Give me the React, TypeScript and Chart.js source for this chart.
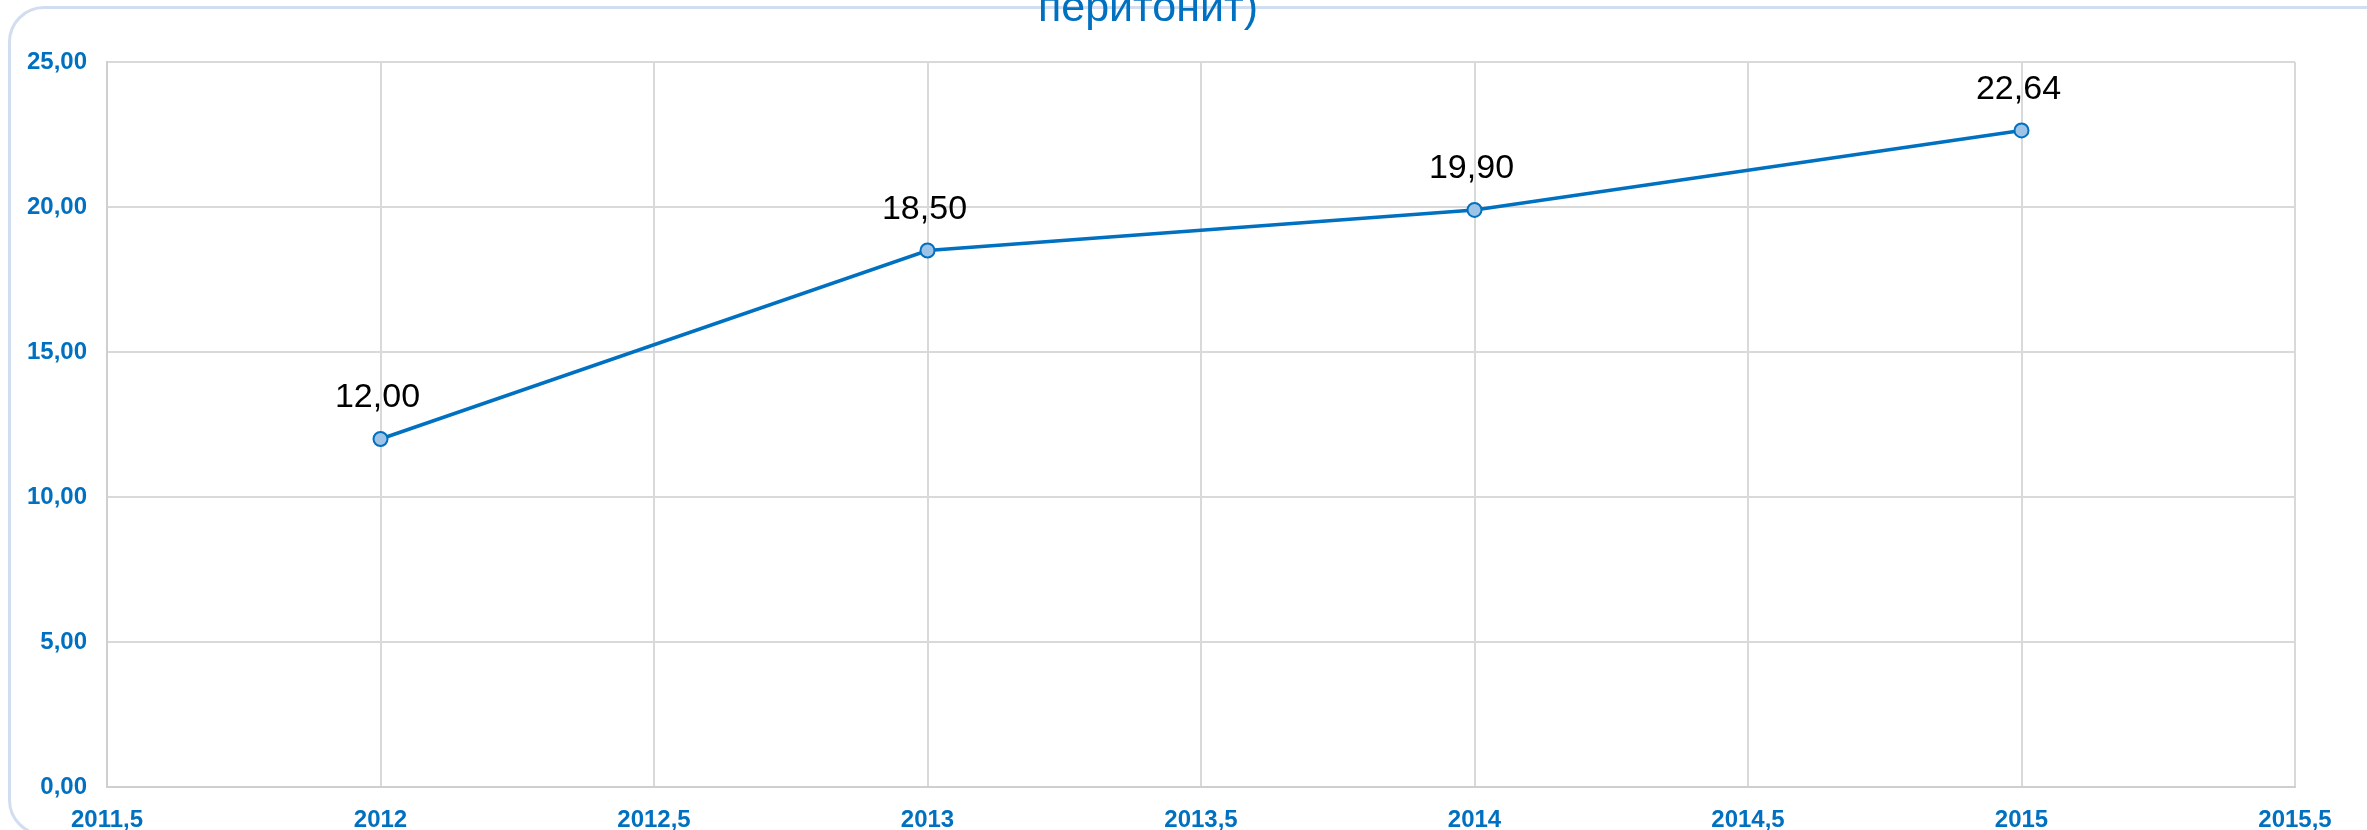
import React, { useEffect, useRef } from "react";
import { Chart, registerables } from "chart.js";

Chart.register(...registerables);

const years = [2012, 2013, 2014, 2015];
const values = [12.0, 18.5, 19.9, 22.64];
const titleText = "перитонит)";
const xMin = 2011.5;
const xMax = 2015.5;
const xStep = 0.5;
const yMin = 0;
const yMax = 25;
const yStep = 5;

const FONT = "'Liberation Sans', Arial, sans-serif";
const BLUE = "#0070c0";

const fmt = (v: number, d: number) => v.toFixed(d).replace(".", ",");

export default function App() {
  const ref = useRef<HTMLCanvasElement | null>(null);

  useEffect(() => {
    document.body.style.margin = "0";
    document.body.style.overflow = "hidden";
    const canvas = ref.current;
    if (!canvas) return;

    const titlePlugin = {
      id: "cutTitle",
      afterDraw(chart: any) {
        const ctx = chart.ctx;
        ctx.save();
        ctx.font = `43px ${FONT}`;
        ctx.fillStyle = BLUE;
        ctx.textAlign = "center";
        ctx.textBaseline = "alphabetic";
        ctx.fillText(titleText, 1148, 21);
        ctx.restore();
      },
    };

    const labelPlugin = {
      id: "valueLabels",
      afterDatasetsDraw(chart: any) {
        const ctx = chart.ctx;
        const meta = chart.getDatasetMeta(0);
        ctx.save();
        ctx.font = `34px ${FONT}`;
        ctx.fillStyle = "#000000";
        ctx.textAlign = "center";
        ctx.textBaseline = "middle";
        meta.data.forEach((pt: any, i: number) => {
          ctx.fillText(fmt(values[i], 2), pt.x - 3, pt.y - 41);
        });
        ctx.restore();
      },
    };

    const chart = new Chart(canvas, {
      type: "line",
      data: {
        datasets: [
          {
            data: years.map((y, i) => ({ x: y, y: values[i] })),
            borderColor: BLUE,
            borderWidth: 3.5,
            pointRadius: 7,
            pointBackgroundColor: "#9dc3e6",
            pointBorderColor: BLUE,
            pointBorderWidth: 2,
            tension: 0,
          },
        ],
      },
      options: {
        animation: false,
        responsive: false,
        maintainAspectRatio: false,
        layout: { padding: { top: 62, right: 72, bottom: 0, left: 0 } },
        plugins: {
          legend: { display: false },
          title: { display: false },
          tooltip: { enabled: false },
        },
        scales: {
          x: {
            type: "linear",
            min: xMin,
            max: xMax,
            ticks: {
              stepSize: xStep,
              padding: 19,
              color: BLUE,
              font: { family: FONT, size: 24, weight: "bold" },
              callback: (v: any) => String(v).replace(".", ","),
              maxRotation: 0,
              autoSkip: false,
            },
            grid: { color: "#d9d9d9", lineWidth: 2, drawTicks: false },
            border: { color: "#cfcfcf", width: 2 },
            afterFit: (s: any) => {
              s.height = 43;
            },
          },
          y: {
            min: yMin,
            max: yMax,
            ticks: {
              stepSize: yStep,
              padding: 20,
              color: BLUE,
              font: { family: FONT, size: 24, weight: "bold" },
              callback: (v: any) => fmt(Number(v), 2),
            },
            grid: { color: "#d9d9d9", lineWidth: 2, drawTicks: false },
            border: { color: "#cfcfcf", width: 2 },
            afterFit: (s: any) => {
              s.width = 107;
            },
          },
        },
      },
      plugins: [labelPlugin, titlePlugin],
    } as any);

    return () => chart.destroy();
  }, []);

  return (
    <div
      style={{
        position: "fixed",
        left: 0,
        top: 0,
        width: 2367,
        height: 830,
        overflow: "hidden",
        background: "#ffffff",
      }}
    >
      <div
        style={{
          position: "absolute",
          left: 8,
          top: 6,
          width: 2400,
          height: 830,
          border: "3px solid #d3ddf0",
          borderRadius: 36,
          background: "#ffffff",
          boxSizing: "border-box",
        }}
      />
      <canvas
        ref={ref}
        width={2367}
        height={830}
        style={{ position: "absolute", left: 0, top: 0, width: 2367, height: 830 }}
      />
    </div>
  );
}
